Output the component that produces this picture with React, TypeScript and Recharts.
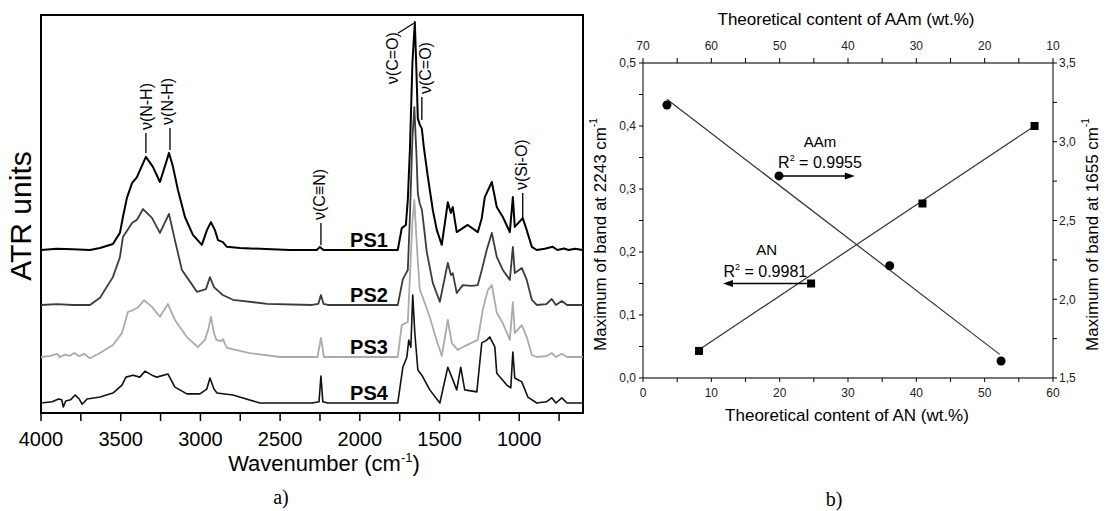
import React from 'react';
import {
  LineChart, ComposedChart, Line, Scatter, XAxis, YAxis,
  ReferenceDot, ReferenceLine, ReferenceArea, Label,
} from 'recharts';

const FONT = "'Liberation Sans', Arial, Helvetica, sans-serif";
const SERIF = "'Liberation Serif', 'Times New Roman', serif";

/* ---------------- Panel a) : ATR spectra ---------------- */
const WAVENUMBER_TICKS = [4000, 3750, 3500, 3250, 3000, 2750, 2500, 2250, 2000, 1750, 1500, 1250, 1000, 750];
const PS_NAMES = ['PS1', 'PS2', 'PS3', 'PS4'];
// vertical stacking offset of each spectrum (ATR units)
const PS_OFFSETS = [40.95, 27.14, 14.07, 2.51];

// [wavenumber (cm-1), absorbance above own baseline]
const PS1: [number, number][] = [
  [4000, 0], [3900, 0.3], [3800, 0.2], [3693, 0], [3630, 0.5], [3549, 1.5], [3505, 4.3], [3486, 8.3],
  [3461, 13.1], [3429, 16.8], [3398, 18.3], [3379, 20.1], [3342, 23.4], [3298, 20.9], [3254, 17.1],
  [3216, 21.9], [3197, 24.4], [3172, 20.9], [3141, 15.1], [3097, 8.3], [3047, 3.8], [2991, 1.3],
  [2959, 5.0], [2934, 7.0], [2909, 5.0], [2890, 2.5], [2859, 2.0], [2834, 0.8], [2752, 0.5], [2439, 0],
  [2270, 0], [2250, 0.8], [2238, 0.3], [2225, 0], [1900, 0], [1762, 0], [1737, 5.5], [1711, 6.3],
  [1699, 12.6], [1686, 25], [1670, 47], [1655, 57.3], [1645, 45], [1636, 33], [1624, 31.5], [1611, 30.5],
  [1599, 26], [1573, 18.3], [1542, 10], [1517, 5], [1486, 1.3], [1448, 12], [1429, 9.3], [1417, 10.8],
  [1392, 4.5], [1373, 5], [1323, 6.3], [1260, 4.5], [1235, 8], [1216, 13.3], [1172, 17.1], [1141, 10.8],
  [1103, 8.3], [1059, 4.5], [1040, 13.3], [1028, 5.8], [978, 8.0], [953, 5.0], [921, 0.8], [890, 0],
  [840, 0.3], [790, 0.8], [760, 0], [720, 0.4], [690, 0], [650, 0.3], [602, 0],
];
const PS2: [number, number][] = [
  [4000, 0], [3900, 0.2], [3800, 0], [3693, 0], [3630, 1.8], [3549, 7.0], [3505, 12], [3486, 17.1],
  [3429, 20.6], [3398, 21.4], [3360, 24.1], [3304, 21.9], [3254, 18.1], [3197, 22.9], [3160, 16.3],
  [3116, 8.8], [3085, 7.0], [3022, 3.3], [2965, 4], [2940, 7.0], [2915, 4.5], [2896, 3.8], [2860, 2.5],
  [2796, 1.3], [2583, 0.3], [2300, 0], [2260, 0.3], [2244, 2.5], [2228, 0.3], [2200, 0], [1762, 0],
  [1730, 6.5], [1699, 8.8], [1686, 22], [1670, 42], [1658, 49.7], [1645, 38], [1636, 28], [1624, 25.5],
  [1611, 24], [1599, 20], [1580, 13.3], [1542, 5.5], [1498, 0.8], [1448, 10.6], [1429, 7.5], [1417, 8.0],
  [1392, 3.0], [1354, 5.0], [1300, 4.8], [1260, 5.0], [1235, 8.8], [1204, 13.8], [1172, 18.1],
  [1141, 12.1], [1103, 8.8], [1059, 6.3], [1040, 14.6], [1028, 8.0], [984, 9.3], [953, 6.3], [921, 1.3],
  [890, 0], [830, 0.2], [796, 1.5], [770, 0], [733, 1.0], [700, 0], [602, 0],
];
const PS3: [number, number][] = [
  [4000, 0], [3940, 0.3], [3900, 0.8], [3880, 0], [3850, 0.6], [3820, 0.3], [3790, 1.0], [3760, 0.2],
  [3730, 0.8], [3693, -0.3], [3630, 1.0], [3549, 3.0], [3492, 6.0], [3455, 11.3], [3423, 11.8],
  [3390, 12.5], [3354, 14.3], [3304, 12.6], [3254, 10.1], [3204, 13.3], [3160, 9.3], [3085, 5.0],
  [3016, 2.5], [2972, 4.3], [2950, 7], [2934, 10.1], [2915, 6], [2900, 4.3], [2870, 4], [2859, 4.5],
  [2834, 2.3], [2690, 1.0], [2500, 0], [2265, 0], [2244, 4.8], [2225, 0], [1762, 0], [1737, 8.0],
  [1699, 8.8], [1686, 20], [1670, 34], [1658, 39.4], [1645, 30], [1636, 24], [1624, 17], [1605, 15],
  [1561, 10], [1517, 4], [1486, 0.3], [1448, 9.3], [1423, 3.5], [1386, 1.8], [1329, 3.0], [1260, 4.3],
  [1229, 11.8], [1197, 16.8], [1172, 18.1], [1141, 11.1], [1103, 8.5], [1059, 4.3], [1040, 13.8],
  [1028, 6.0], [984, 8.0], [953, 5.0], [921, 0.5], [890, 0], [830, 0.2], [796, 1.0], [770, 0],
  [733, 0.8], [700, 0], [602, 0],
];
const PS4: [number, number][] = [
  [4000, 0], [3930, 0.3], [3890, 1.0], [3870, 0.8], [3860, -1.0], [3845, 0.5], [3815, 0.8], [3786, 2.0],
  [3760, 1.0], [3742, -0.3], [3711, 1.0], [3630, 1.5], [3549, 2.5], [3492, 4.5], [3467, 6.5], [3423, 7.0],
  [3380, 6.5], [3348, 8.0], [3304, 7.0], [3273, 6.5], [3204, 7.3], [3160, 4.0], [3085, 2.3], [3003, 2.3],
  [2960, 3.5], [2940, 6.3], [2915, 3.5], [2896, 2.5], [2796, 2.0], [2627, 0], [2300, 0], [2256, 0.3],
  [2244, 6.8], [2232, 0.3], [2200, 0], [1762, 0], [1730, 9.0], [1705, 11.5], [1693, 15.8], [1680, 14],
  [1668, 27.1], [1655, 17.6], [1636, 8.3], [1611, 7.0], [1561, 3.3], [1498, 0], [1448, 9.0], [1423, 6.5],
  [1392, 3.3], [1367, 9.0], [1342, 3.3], [1266, 2.8], [1235, 15.1], [1204, 15.8], [1185, 16.6],
  [1153, 14.1], [1141, 7.5], [1078, 4.5], [1053, 3.8], [1040, 12.8], [1028, 6.3], [984, 5.3], [946, 1.5],
  [890, 0], [830, 0.3], [796, 1.3], [770, 0], [733, 1.3], [700, 0], [602, 0],
];
const SPECTRA = [PS1, PS2, PS3, PS4];
const PS_COLORS = ['#000000', '#3c3c3c', '#ababab', '#111111'];
const PS_WIDTHS = [2, 1.8, 1.8, 1.6];

// band assignments: text, wavenumber, level of the marker foot (ATR units)
const BAND_TEXT = ['ν(N-H)', 'ν(N-H)', 'ν(C≡N)', 'ν(C=O)', 'ν(Si-O)'];
const BAND_W = [3342, 3191, 2244, 1611, 978];
const BAND_V = [65.3, 66.1, 42.2, 73.6, 49.0];
const BAND_LEN = [20, 22, 22, 23, 25];
const BAND_DX = [1, -2, -1, 4, -1];
const MAIN_BAND = { text: 'ν(C=O)', w: 1655, v: 98.2 };

const toSeries = (pts: [number, number][], off: number) => pts.map(([w, h]) => ({ w, v: h + off }));

/* ---------------- Panel b) : calibration ---------------- */
const AN_CONTENT = [8.2, 24.6, 40.9, 57.3];
const AN_BAND_2243 = [0.043, 0.150, 0.277, 0.400];
const AAM_CONTENT = [66.5, 50.1, 33.9, 17.6];
const AAM_BAND_1655 = [3.233, 2.783, 2.213, 1.608];
const AN_FIT = [{ x: 8.2, y: 0.045 }, { x: 57.3, y: 0.400 }];
const AAM_FIT = [{ x: 66.5, y: 3.27 }, { x: 17.8, y: 1.65 }];
const AN_TICKS = [0, 5, 10, 15, 20, 25, 30, 35, 40, 45, 50, 55, 60];
const AAM_TICKS = [10, 15, 20, 25, 30, 35, 40, 45, 50, 55, 60, 65, 70];
const LEFT_TICKS = [0, 0.05, 0.1, 0.15, 0.2, 0.25, 0.3, 0.35, 0.4, 0.45, 0.5];
const RIGHT_TICKS = [1.5, 1.75, 2, 2.25, 2.5, 2.75, 3, 3.25, 3.5];

const anPoints = AN_CONTENT.map((x, i) => ({ x, y: AN_BAND_2243[i] }));
const aamPoints = AAM_CONTENT.map((x, i) => ({ x, y: AAM_BAND_1655[i] }));

const isMult = (v: number, step: number) => Math.abs(v / step - Math.round(v / step)) < 1e-6;
const comma1 = (v: number) => v.toFixed(1).replace('.', ',');

const vbOf = (p: any) => p.viewBox || { x: 0, y: 0, width: 0, height: 0 };

function PanelA() {
  return (
    <LineChart width={600} height={511} margin={{ top: 15, right: 17, bottom: 28, left: 0 }} style={{ fontFamily: FONT }}>
      <XAxis
        type="number" dataKey="w" domain={[600, 4000]} reversed allowDataOverflow
        ticks={WAVENUMBER_TICKS} interval={0}
        tickFormatter={(v: number) => (isMult(v, 500) ? String(v) : '')}
        tick={{ fill: '#000', fontSize: 20, fontFamily: FONT }}
        tickSize={8} tickMargin={11} height={70}
        axisLine={{ stroke: '#000', strokeWidth: 2 }} tickLine={{ stroke: '#000', strokeWidth: 1.5 }}
      >
        <Label content={(p: any) => {
          const vb = vbOf(p);
          return (
            <g>
              <text x={vb.x + vb.width / 2 + 12} y={vb.y + 58} textAnchor="middle" fontSize={22} fontFamily={FONT} fill="#000">
                <tspan>Wavenumber (cm</tspan><tspan dy={-9} fontSize={13}>-1</tspan><tspan dy={9}>)</tspan>
              </text>
              <text x={281} y={vb.y + 91} textAnchor="middle" fontSize={20} fontFamily={SERIF} fill="#000">a)</text>
            </g>
          );
        }} />
      </XAxis>
      <YAxis type="number" domain={[0, 100]} width={41} tick={false} axisLine={false} tickLine={false} allowDataOverflow>
        <Label content={(p: any) => {
          const vb = vbOf(p);
          const cx = vb.x + 20;
          const cy = vb.y + vb.height / 2 + 2;
          return (
            <text transform={`translate(${cx},${cy}) rotate(-90)`} textAnchor="middle" dominantBaseline="central" fontSize={30} fontFamily={FONT} fill="#000">ATR units</text>
          );
        }} />
      </YAxis>
      <ReferenceArea x1={600} x2={4000} y1={0} y2={100} fill="none" stroke="#000" strokeWidth={2} />
      {[2, 1, 3, 0].map((i) => (
        <Line
          key={PS_NAMES[i]} data={toSeries(SPECTRA[i], PS_OFFSETS[i])} dataKey="v" name={PS_NAMES[i]}
          type="linear" dot={false} stroke={PS_COLORS[i]} strokeWidth={PS_WIDTHS[i]}
          strokeLinejoin="round" isAnimationActive={false}
        />
      ))}
      {PS_NAMES.map((name, i) => (
        <ReferenceDot key={'lab' + name} x={1824} y={PS_OFFSETS[i] + 0.8} r={0}
          shape={(p: any) => (
            <text x={p.cx} y={p.cy} textAnchor="end" fontSize={20} fontWeight="bold" fontFamily={FONT} fill="#000">{name}</text>
          )} />
      ))}
      {BAND_TEXT.map((t, i) => (
        <ReferenceDot key={'band' + i} x={BAND_W[i]} y={BAND_V[i]} r={0}
          shape={(p: any) => (
            <g>
              <line x1={p.cx} y1={p.cy} x2={p.cx} y2={p.cy - BAND_LEN[i]} stroke="#000" strokeWidth={1.3} />
              <text transform={`translate(${p.cx + BAND_DX[i]},${p.cy - BAND_LEN[i] - 3}) rotate(-90)`}
                textAnchor="start" dominantBaseline="central" fontSize={16} fontFamily={FONT} fill="#000">{t}</text>
            </g>
          )} />
      ))}
      <ReferenceDot x={MAIN_BAND.w} y={MAIN_BAND.v} r={0}
        shape={(p: any) => (
          <g>
            <line x1={p.cx - 1} y1={p.cy + 1} x2={p.cx - 17} y2={p.cy + 11} stroke="#000" strokeWidth={1.2} />
            <text transform={`translate(${p.cx - 22},${p.cy + 10}) rotate(-90)`}
              textAnchor="end" dominantBaseline="central" fontSize={16} fontFamily={FONT} fill="#000">{MAIN_BAND.text}</text>
          </g>
        )} />
    </LineChart>
  );
}

const smallTick = { fill: '#222', fontSize: 12, fontFamily: FONT };

function PanelB() {
  return (
    <ComposedChart width={546} height={511} margin={{ top: 0, right: 0, bottom: 73, left: 0 }} style={{ fontFamily: FONT }}>
      <XAxis xAxisId="bottom" orientation="bottom" type="number" dataKey="x" domain={[0, 60]} allowDataOverflow
        ticks={AN_TICKS} interval={0} tickFormatter={(v: number) => (isMult(v, 10) ? String(v) : '')}
        tick={smallTick} tickSize={4} tickMargin={6} height={60}
        axisLine={{ stroke: '#777', strokeWidth: 2 }} tickLine={{ stroke: '#000' }}>
        <Label content={(p: any) => {
          const vb = vbOf(p);
          return (
            <g>
              <text x={vb.x + vb.width / 2 - 1} y={vb.y + 43} textAnchor="middle" fontSize={17} fontFamily={FONT} fill="#000">Theoretical content of AN (wt.%)</text>
              <text x={274} y={vb.y + 128} textAnchor="middle" fontSize={20} fontFamily={SERIF} fill="#000">b)</text>
            </g>
          );
        }} />
      </XAxis>
      <XAxis xAxisId="top" orientation="top" type="number" dataKey="x" domain={[10, 70]} reversed allowDataOverflow
        ticks={AAM_TICKS} interval={0} tickFormatter={(v: number) => (isMult(v, 10) ? String(v) : '')}
        tick={smallTick} tickSize={5} tickMargin={8} height={63}
        axisLine={{ stroke: '#777', strokeWidth: 2 }} tickLine={{ stroke: '#000' }}>
        <Label content={(p: any) => {
          const vb = vbOf(p);
          return (
            <text x={vb.x + vb.width / 2 - 2} y={vb.y + 25} textAnchor="middle" fontSize={17} fontFamily={FONT} fill="#000">Theoretical content of AAm (wt.%)</text>
          );
        }} />
      </XAxis>
      <YAxis yAxisId="left" orientation="left" type="number" dataKey="y" domain={[0, 0.5]} allowDataOverflow
        ticks={LEFT_TICKS} interval={0} tickFormatter={(v: number) => (isMult(v, 0.1) ? comma1(v) : '')}
        tick={smallTick} tickSize={4} tickMargin={3} width={83}
        axisLine={{ stroke: '#000', strokeWidth: 1 }} tickLine={{ stroke: '#000' }}>
        <Label content={(p: any) => {
          const vb = vbOf(p);
          const cx = vb.x + 40;
          const cy = vb.y + vb.height / 2 + 14;
          return (
            <text transform={`translate(${cx},${cy}) rotate(-90)`} textAnchor="middle" dominantBaseline="central" fontSize={17} fontFamily={FONT} fill="#000">
              <tspan>Maximum of band at 2243 cm</tspan><tspan dy={-7} fontSize={10}>-1</tspan>
            </text>
          );
        }} />
      </YAxis>
      <YAxis yAxisId="right" orientation="right" type="number" dataKey="y" domain={[1.5, 3.5]} allowDataOverflow
        ticks={RIGHT_TICKS} interval={0} tickFormatter={(v: number) => (isMult(v, 0.5) ? comma1(v) : '')}
        tick={smallTick} tickSize={4} tickMargin={2} width={53}
        axisLine={{ stroke: '#000', strokeWidth: 1 }} tickLine={{ stroke: '#000' }}>
        <Label content={(p: any) => {
          const vb = vbOf(p);
          const cx = vb.x + 39;
          const cy = vb.y + vb.height / 2 + 14;
          return (
            <text transform={`translate(${cx},${cy}) rotate(-90)`} textAnchor="middle" dominantBaseline="central" fontSize={17} fontFamily={FONT} fill="#000">
              <tspan>Maximum of band at 1655 cm</tspan><tspan dy={-7} fontSize={10}>-1</tspan>
            </text>
          );
        }} />
      </YAxis>

      <Line xAxisId="bottom" yAxisId="left" data={AN_FIT} dataKey="y" type="linear" dot={false}
        stroke="#333" strokeWidth={1.2} isAnimationActive={false} />
      <Line xAxisId="top" yAxisId="right" data={AAM_FIT} dataKey="y" type="linear" dot={false}
        stroke="#333" strokeWidth={1.2} isAnimationActive={false} />
      <Scatter xAxisId="bottom" yAxisId="left" data={anPoints} shape="square" fill="#000" isAnimationActive={false} />
      <Scatter xAxisId="top" yAxisId="right" data={aamPoints} shape="circle" fill="#000" isAnimationActive={false} />

      {/* AAm annotation: arrow to the right axis */}
      <ReferenceLine xAxisId="top" yAxisId="right" segment={[{ x: 50.1, y: 2.783 }, { x: 40.0, y: 2.783 }]} stroke="#000" strokeWidth={1.5} />
      <ReferenceDot xAxisId="top" yAxisId="right" x={39.0} y={2.783} r={0}
        shape={(p: any) => <polygon points={`${p.cx},${p.cy} ${p.cx - 10},${p.cy - 3.5} ${p.cx - 10},${p.cy + 3.5}`} fill="#000" />} />
      <ReferenceDot xAxisId="top" yAxisId="right" x={44.1} y={2.967} r={0}
        shape={(p: any) => <text x={p.cx} y={p.cy} textAnchor="middle" fontSize={15} fontFamily={FONT} fill="#000">AAm</text>} />
      <ReferenceDot xAxisId="top" yAxisId="right" x={44.1} y={2.833} r={0}
        shape={(p: any) => (
          <text x={p.cx} y={p.cy} textAnchor="middle" fontSize={16} fontFamily={FONT} fill="#000">
            <tspan>R</tspan><tspan dy={-7} fontSize={9}>2</tspan><tspan dy={7}> = 0.9955</tspan>
          </text>
        )} />

      {/* AN annotation: arrow to the left axis */}
      <ReferenceLine xAxisId="bottom" yAxisId="left" segment={[{ x: 24.6, y: 0.150 }, { x: 12.5, y: 0.150 }]} stroke="#000" strokeWidth={1.5} />
      <ReferenceDot xAxisId="bottom" yAxisId="left" x={11.7} y={0.150} r={0}
        shape={(p: any) => <polygon points={`${p.cx},${p.cy} ${p.cx + 10},${p.cy - 3.5} ${p.cx + 10},${p.cy + 3.5}`} fill="#000" />} />
      <ReferenceDot xAxisId="bottom" yAxisId="left" x={18.1} y={0.195} r={0}
        shape={(p: any) => <text x={p.cx} y={p.cy} textAnchor="middle" fontSize={15} fontFamily={FONT} fill="#000">AN</text>} />
      <ReferenceDot xAxisId="bottom" yAxisId="left" x={17.9} y={0.160} r={0}
        shape={(p: any) => (
          <text x={p.cx} y={p.cy} textAnchor="middle" fontSize={16} fontFamily={FONT} fill="#000">
            <tspan>R</tspan><tspan dy={-7} fontSize={9}>2</tspan><tspan dy={7}> = 0.9981</tspan>
          </text>
        )} />
    </ComposedChart>
  );
}

export default function App() {
  return (
    <div style={{ position: 'absolute', left: 0, top: 0, width: 1106, height: 511, background: '#fff', overflow: 'hidden' }}>
      <div style={{ position: 'absolute', left: 0, top: 0 }}>
        <PanelA />
      </div>
      <div style={{ position: 'absolute', left: 560, top: 0 }}>
        <PanelB />
      </div>
    </div>
  );
}
